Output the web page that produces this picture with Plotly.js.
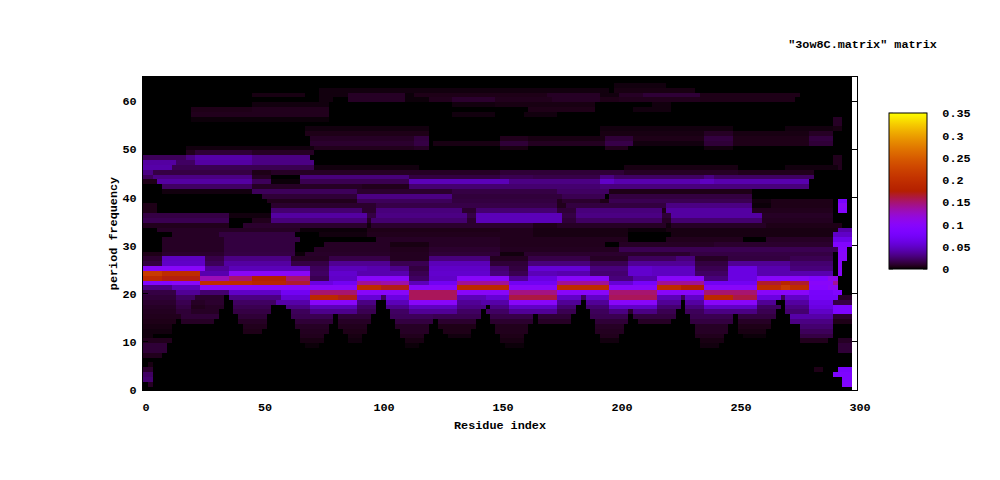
<!DOCTYPE html>
<html><head><meta charset="utf-8">
<script src="https://cdn.plot.ly/plotly-3.0.1.min.js"></script>
<style>html,body{margin:0;padding:0;background:#fff}</style></head>
<body><div id="c" style="width:1000px;height:480px"></div>
<script>
// Each row is a list of "lastResidue:value" runs, value in thousandths. Row index = period frequency.
const rowRuns = {
63:"198:0 221:3",
62:"75:0 196:3 198:0 232:4",
61:"47:0 69:4 75:0 87:3 110:8 114:2 150:5 171:5 192:8 200:3 211:8 234:12 276:5",
60:"75:0 80:3 87:0 110:8 121:2 130:6 148:10 172:6 192:8 200:5 234:6 274:5",
59:"47:0 79:3 130:0 148:3 162:4 190:4 215:0 222:3",
58:"21:0 47:5 79:6 162:0 190:5 206:0 222:3",
57:"21:0 79:6 130:0 148:3 161:0 175:3",
56:"21:0 79:2 291:0 295:8",
55:"291:0 295:8",
54:"68:0 120:3 193:0 248:3 270:0 290:3 294:4",
53:"68:0 120:5 193:0 237:4 248:8 281:4 290:8",
52:"70:0 114:8 121:14 151:0 163:6 194:4 206:12 237:5 248:14 281:5 290:14",
51:"70:0 114:10 121:15 123:0 151:4 163:12 195:7 206:16 237:3 248:12 281:5 290:12",
50:"19:0 72:3 114:6 121:8 151:0 163:4 195:0 204:6 237:0 248:3",
49:"19:0 23:6 47:12 72:8",
48:"19:20 23:30 47:40 70:30 291:0 295:6",
47:"15:38 23:22 47:38 72:30 291:0 295:6",
46:"13:40 72:18 116:3 202:0 250:4 270:0 292:3 295:6",
45:"5:30 47:15 54:5 118:8 150:8 202:12 250:8 283:6",
44:"5:20 47:30 54:8 66:0 112:28 150:14 164:18 192:16 199:30 237:22 241:30 283:22",
43:"6:5 47:38 54:20 66:2 112:18 155:45 192:30 199:50 234:42 241:48 281:42",
42:"8:0 47:22 93:8 112:6 174:25 193:25 280:28",
41:"8:0 47:3 91:20 130:10 174:15 196:22 257:5",
40:"50:0 91:12 130:30 176:13 195:18 197:0 257:14",
39:"52:0 91:6 130:20 174:14 176:6 192:10 196:5 257:18 264:3 291:5 292:0 297:80",
38:"6:5 54:0 98:10 137:16 174:16 178:6 192:14 220:14 257:30 264:2 291:5 292:0 297:100",
37:"6:5 55:0 93:25 98:10 135:28 140:10 174:25 182:12 218:28 221:5 257:38 260:6 291:6 292:0 297:95",
36:"37:15 55:3 95:38 98:15 137:30 140:15 176:45 182:15 218:30 223:12 260:38 262:8 291:8",
35:"37:18 47:0 55:6 94:28 97:8 137:25 140:10 176:45 182:12 218:22 223:8 260:25 262:7 291:7",
34:"37:6 42:0 94:10 97:3 150:10 164:10 175:5 220:8 223:3 262:8 294:5",
33:"6:0 37:8 66:8 95:2 150:5 164:6 204:4 221:2 292:4 298:40",
32:"12:0 33:8 65:14 75:0 95:3 150:6 164:6 204:4 222:0 291:4 298:50",
31:"8:0 34:8 66:14 98:0 150:8 176:6 204:6 221:0 253:6 262:0 291:8 298:65",
30:"8:0 34:8 65:14 76:0 105:8 120:4 150:8 195:6 200:0 218:8 240:8 290:10 298:90",
29:"8:0 34:8 64:14 72:0 104:8 120:6 150:10 200:7 290:18 292:18 296:95",
28:"8:5 34:10 64:15 68:2 104:9 120:7 150:12 160:3 200:10 230:10 290:15 292:0 296:100",
27:"9:10 26:48 35:16 63:30 79:8 104:16 120:7 147:28 162:7 188:16 204:8 225:20 232:28 246:8 273:14 290:18 292:0 296:100",
26:"9:14 26:50 35:20 63:38 79:15 104:34 120:18 147:45 162:12 188:28 204:18 232:35 246:14 273:35 290:25 292:0 295:100",
25:"26:100 37:35 70:45 79:20 94:45 104:42 112:32 121:14 147:50 154:25 163:14 188:55 204:28 214:52 232:48 246:18 258:60 273:42 290:28 292:0 295:100",
24:"9:215 25:195 37:42 70:100 79:22 91:52 112:42 121:18 147:52 154:28 163:18 174:45 188:42 204:25 214:52 232:48 246:22 258:60 280:42 290:42 292:0 295:100",
23:"9:190 25:172 37:130 47:150 60:175 70:150 79:18 90:50 112:100 121:22 132:50 154:100 163:35 174:60 196:100 206:28 216:42 237:100 246:28 258:60 280:100 289:90 292:110",
22:"13:90 25:100 47:195 60:185 70:165 80:60 90:70 101:140 112:135 121:45 132:70 154:140 174:70 196:140 206:55 216:75 237:140 258:70 268:165 273:185 280:165 290:100 292:140",
21:"13:30 25:45 90:100 101:195 112:170 132:100 154:190 174:100 196:195 216:100 227:195 237:175 258:100 268:195 272:215 280:195 289:95 292:105",
20:"14:15 25:35 37:25 58:50 70:70 90:150 112:100 132:155 154:100 174:145 196:100 216:150 237:100 258:150 280:100 291:78 295:90",
19:"14:12 22:22 35:10 37:0 58:30 70:55 82:190 90:170 100:55 102:20 112:60 132:155 145:45 154:55 174:160 185:50 187:20 196:50 216:155 226:45 228:20 237:50 248:190 258:160 268:60 270:20 280:50 292:75 298:8",
18:"14:10 20:18 26:8 34:10 38:0 56:22 70:40 90:100 99:30 103:0 112:45 132:100 143:35 154:40 174:100 184:35 187:0 196:35 216:100 226:35 228:0 237:38 258:100 267:35 271:0 280:38 291:65 298:15",
17:"14:8 20:15 26:6 34:8 38:0 55:18 61:0 70:30 90:45 99:22 103:0 112:32 132:48 144:30 146:0 154:30 174:50 183:25 187:0 196:25 216:50 226:25 228:0 237:28 258:50 268:22 270:0 280:30 291:60 298:85",
16:"14:7 20:12 33:8 39:0 54:15 62:0 70:20 90:32 98:18 104:0 112:22 132:35 143:22 145:0 154:22 174:35 182:18 188:0 196:20 205:30 207:10 216:30 225:18 229:0 237:20 258:30 267:18 271:0 280:25 291:50 298:85",
15:"16:6 32:12 40:0 53:12 63:0 80:18 82:0 97:12 105:0 123:20 142:18 146:0 164:16 166:0 181:12 189:0 205:18 207:0 224:14 230:0 248:18 250:0 266:14 272:0 291:40 298:10",
14:"15:5 17:0 31:8 41:0 52:8 64:0 80:12 82:0 96:8 106:0 122:14 124:0 141:10 147:0 164:10 166:0 180:8 190:0 204:12 208:0 223:8 231:0 248:14 250:0 265:8 273:0 291:30 298:5",
13:"13:4 42:0 52:6 65:0 79:8 83:0 95:6 107:0 121:8 125:0 140:5 148:0 163:6 190:0 203:8 232:0 247:8 251:0 264:5 276:0 291:25",
12:"12:3 42:0 50:5 66:0 78:7 84:0 94:5 108:0 120:8 127:0 139:5 149:0 162:6 190:0 202:7 233:0 246:8 251:0 263:4 276:0 291:20",
11:"4:3 66:0 77:6 86:0 93:4 109:0 119:6 128:0 138:3 150:0 161:5 192:0 201:6 233:0 245:6 253:0 262:2 276:0 290:15",
10:"13:6 66:0 76:4 87:0 92:3 110:0 118:4 151:0 160:4 193:0 200:3 234:0 245:4 277:0 289:6 292:0 298:8",
9:"10:12 68:0 75:2 110:0 116:2 152:0 160:2 235:0 243:3 292:0 298:12",
8:"10:12 292:0 298:12",
7:"9:6",
5:"3:0 5:4",
4:"4:10 282:0 287:5 292:0 298:80",
3:"5:22 290:0 298:85",
2:"5:25 294:0 298:85",
1:"2:0 5:8 295:0 298:90"
};
const residueCount = 298, columnStep = 2, rowCount = 66;
const xTickVals = [0,50,100,150,200,250,300];
const yTickVals = [0,10,20,30,40,50,60];
const barTickVals = [0,0.05,0.1,0.15,0.2,0.25,0.3,0.35];
const barTickText = ["0","0.05","0.1","0.15","0.2","0.25","0.3","0.35"];

const xs=[]; for(let r=columnStep/2;r<residueCount;r+=columnStep) xs.push(r);
const ys=[], z=[];
for(let k=0;k<rowCount;k++){
  ys.push(k+0.26);
  const runs=(rowRuns[k]||"").split(" ").filter(Boolean).map(s=>s.split(":").map(Number));
  z.push(xs.map(x=>{const run=runs.find(p=>x<p[0]);return run?run[1]/1000:0;}));
}
// gnuplot default palette: rgbformulae 7,5,15
const scale=[];const clamp=v=>Math.round(255*Math.max(0,Math.min(1,v)));
for(let i=0;i<=70;i++){const g=i/70;
  scale.push([g,`rgb(${clamp(Math.sqrt(g))},${clamp(g*g*g)},${clamp(Math.sin(2*Math.PI*g))})`]);}

const L=143,R=857,T=76.5,B=390.5;
const px=v=>(v-L)/(R-L), py=v=>(B-v)/(B-T);
const barL=889,barR=927,barT=113,barB=269;
const barShapes=[];
barTickVals.forEach(v=>{const y=py(barB-(barB-barT)*v/0.35);
  [[barL,barL+4],[barR-4,barR]].forEach(s=>barShapes.push({type:'line',xref:'paper',yref:'paper',x0:px(s[0]),x1:px(s[1]),y0:y,y1:y,line:{color:'#000',width:1}}));
});

const font={family:'"Liberation Mono", monospace',size:11.8,color:'#000',weight:700};
const axis={ticks:'inside',ticklen:5,tickwidth:1,tickcolor:'#000',showline:true,linecolor:'#000',linewidth:1,mirror:'ticks',showgrid:false,zeroline:false,tickfont:font};
Plotly.newPlot('c',[{type:'heatmap',x:xs,y:ys,z:z,zmin:0,zmax:0.35,colorscale:scale,hoverinfo:'skip',
  colorbar:{x:px(barL),xanchor:'left',xpad:0,ypad:0,y:py((barT+barB)/2),yanchor:'middle',lenmode:'pixels',len:barB-barT,thicknessmode:'pixels',thickness:barR-barL,
    outlinecolor:'#000',outlinewidth:1,ticks:'outside',ticklen:13,tickwidth:1,tickcolor:'rgba(0,0,0,0)',tickmode:'array',tickvals:barTickVals,ticktext:barTickText,tickfont:font}
}],{
  width:1000,height:480,paper_bgcolor:'#fff',plot_bgcolor:'#fff',showlegend:false,
  margin:{l:L,r:1000-R,t:T,b:480-B,pad:0},
  shapes:barShapes,
  title:{text:'"3ow8C.matrix" matrix',font:font,xref:'container',yref:'container',x:0.8625,y:1-44/480,xanchor:'center',yanchor:'middle'},
  xaxis:Object.assign({},axis,{range:[0,300],tickmode:'array',tickvals:xTickVals,ticklabelshift:3,ticklabelstandoff:6,title:{text:'Residue index',font:font,standoff:6}}),
  yaxis:Object.assign({},axis,{range:[0,65],tickmode:'array',tickvals:yTickVals,ticklabelstandoff:3,title:{text:'period frequency',font:font,standoff:2}})
},{displayModeBar:false});
</script></body></html>
